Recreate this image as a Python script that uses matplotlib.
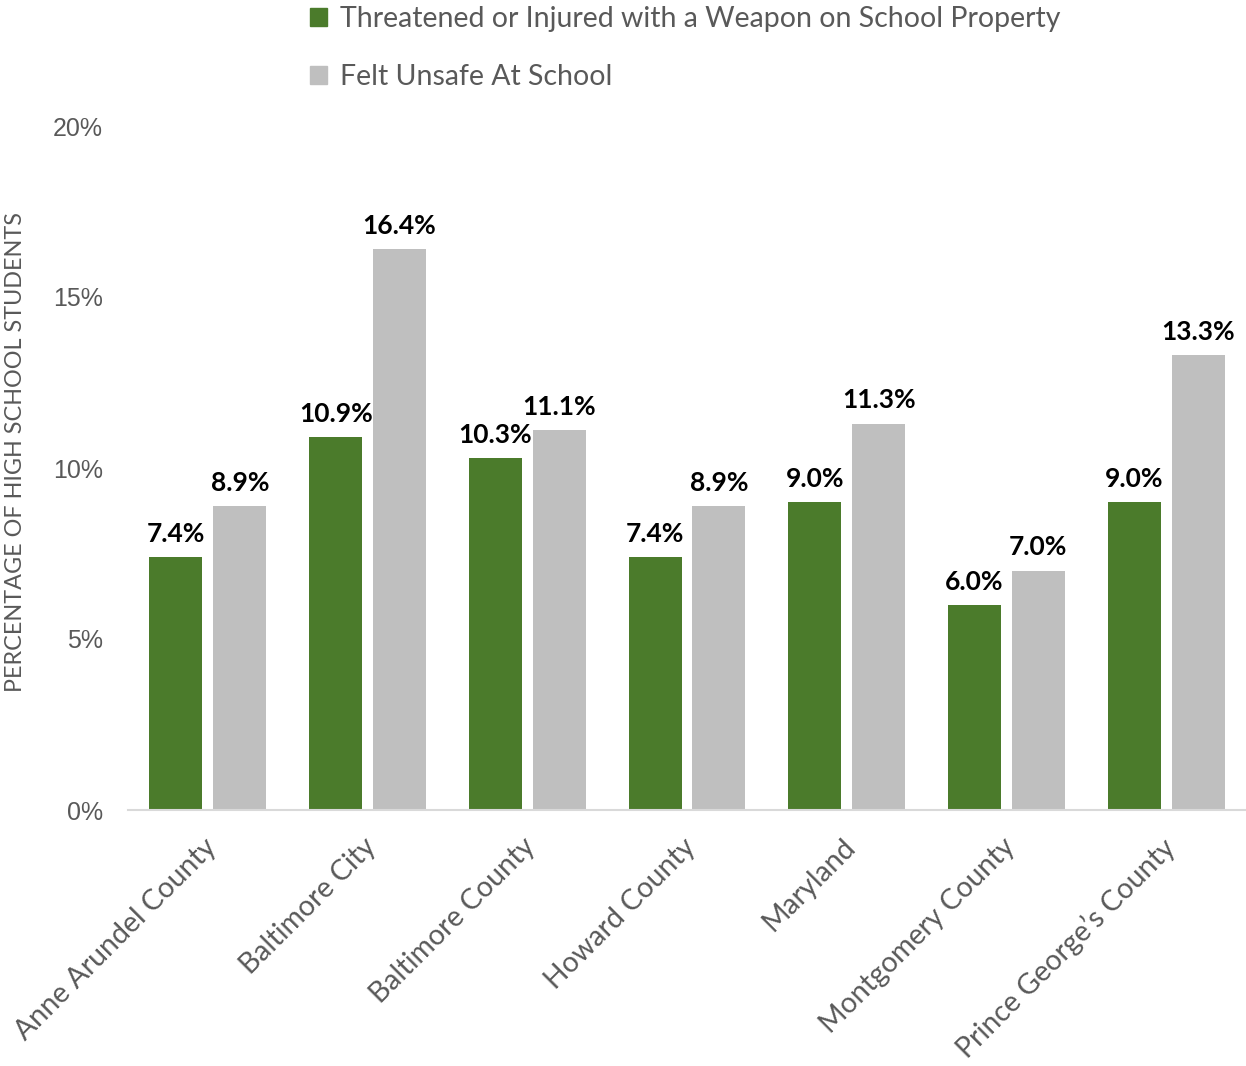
import matplotlib
matplotlib.use("Agg")
import matplotlib.pyplot as plt
import numpy as np
from matplotlib import font_manager
from matplotlib.patches import Patch

categories = ["Anne Arundel County", "Baltimore City", "Baltimore County",
              "Howard County", "Maryland", "Montgomery County",
              "Prince George\u2019s County"]
threatened = [7.4, 10.9, 10.3, 7.4, 9.0, 6.0, 9.0]
felt_unsafe = [8.9, 16.4, 11.1, 8.9, 11.3, 7.0, 13.3]
series_names = ["Threatened or Injured with a Weapon on School Property",
                "Felt Unsafe At School"]
y_ticks = [0, 5, 10, 15, 20]

GREEN = "#4b7b2b"
GRAY = "#bfbfbf"
TEXT_GRAY = "#595959"

installed = {f.name for f in font_manager.fontManager.ttflist}
narrow = "Liberation Sans Narrow" if "Liberation Sans Narrow" in installed else "Lato"
main_font = "Lato" if "Lato" in installed else "DejaVu Sans"
tick_font = "Liberation Sans" if "Liberation Sans" in installed else "DejaVu Sans"

W, H = 1246, 1066
fig = plt.figure(figsize=(W / 100, H / 100), dpi=100)
ax = fig.add_axes([128 / W, 1 - 810 / H, 1 - 128 / W, (810 - 126) / H])

x = np.arange(len(categories))
width = 0.332
offset = 0.2
b1 = ax.bar(x - offset, threatened, width, color=GREEN, zorder=2)
b2 = ax.bar(x + offset, felt_unsafe, width, color=GRAY, zorder=2)

for bars, vals in ((b1, threatened), (b2, felt_unsafe)):
    for bar, v in zip(bars, vals):
        ax.annotate(f"{v:.1f}%", (bar.get_x() + bar.get_width() / 2, v),
                    xytext=(0, 8), textcoords="offset points",
                    ha="center", va="bottom", fontsize=19, fontweight="bold",
                    family=main_font, color="black")

ax.set_xlim(-0.5, len(categories) - 0.5)
ax.set_ylim(0, 20)
ax.set_yticks(y_ticks)
ax.set_yticklabels([f"{t}%" for t in y_ticks], family=tick_font,
                   fontsize=18, color=TEXT_GRAY)
ax.set_xticks(x)
ax.set_xticklabels(categories, rotation=45, ha="right", rotation_mode="anchor",
                   family=main_font, fontsize=20.5, color=TEXT_GRAY)
ax.tick_params(axis="both", length=0)
ax.tick_params(axis="y", pad=18)
ax.tick_params(axis="x", pad=17)
for lbl in ax.get_xticklabels():
    lbl.set_x(lbl.get_position()[0])
for s in ("top", "right", "left"):
    ax.spines[s].set_visible(False)
ax.spines["bottom"].set_color("#d9d9d9")
ax.spines["bottom"].set_linewidth(1.5)

# shift the rotated category names a few pixels left
import matplotlib.transforms as mtransforms
shift = mtransforms.ScaledTranslation(-5 / 100, 0, fig.dpi_scale_trans)
for lbl in ax.get_xticklabels():
    lbl.set_transform(lbl.get_transform() + shift)

# vertical axis title, sized to span the plot height
ylab = fig.text(16 / W, 1 - 452 / H, "PERCENTAGE OF HIGH SCHOOL STUDENTS",
                rotation=90, ha="center", va="center", family=narrow,
                fontsize=17, color=TEXT_GRAY)
renderer = fig.canvas.get_renderer()
ext = ylab.get_window_extent(renderer)
ylab.set_fontsize(17 * 480 / ext.height)

handles = [Patch(color=GREEN), Patch(color=GRAY)]
fig.legend(handles, series_names, loc="upper left",
           bbox_to_anchor=(284 / W, 1 + 20 / H), frameon=False,
           prop={"family": main_font, "size": 20.5}, labelcolor=TEXT_GRAY,
           handlelength=0.6, handleheight=0.6, handletextpad=0.45,
           labelspacing=1.15)

fig.savefig("out.png", dpi=100)
